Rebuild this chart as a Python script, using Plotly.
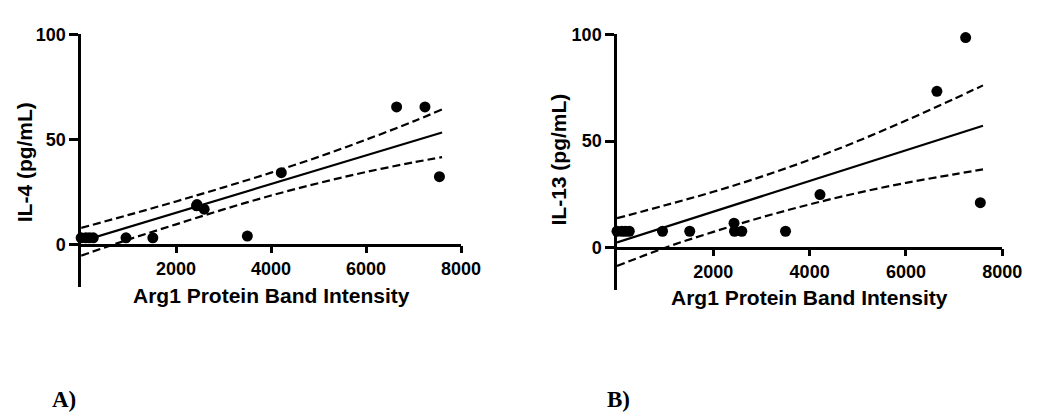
import plotly.graph_objects as go

# ---- data ----
intensity = [0, 100, 175, 255, 945, 1510, 2430, 2440, 2591, 3500, 4215, 6643, 7240, 7545]
il4 = [3.2, 3.2, 3.2, 3.2, 3.2, 3.2, 18.4, 19.0, 16.8, 4.0, 34.2, 65.5, 65.5, 32.3]
il13 = [7.7, 7.7, 7.7, 7.7, 7.7, 7.7, 11.5, 7.7, 7.7, 7.7, 24.9, 73.3, 98.5, 21.1]

band_x = [0, 1000, 2000, 3000, 4000, 5000, 6000, 7000, 7600]
il4_fit = [1.5, 8.3, 15.1, 22.0, 28.8, 35.6, 42.4, 49.2, 53.3]
il4_upper = [7.9, 14.1, 20.5, 27.2, 34.2, 41.7, 49.9, 58.6, 64.3]
il4_lower = [-5.3, 2.4, 9.6, 16.7, 23.3, 29.2, 34.5, 39.1, 41.6]
il13_fit = [2.5, 9.7, 16.9, 24.1, 31.3, 38.5, 45.7, 52.9, 57.2]
il13_upper = [13.8, 19.9, 26.2, 33.3, 41.2, 50.0, 59.6, 69.8, 76.1]
il13_lower = [-8.6, 0.0, 7.4, 14.2, 20.3, 25.7, 30.4, 34.4, 36.7]

x_ticks = [2000, 4000, 6000, 8000]
y_ticks = [0, 50, 100]
x_title = "Arg1 Protein Band Intensity"
y_titles = ["IL-4 (pg/mL)", "IL-13 (pg/mL)"]
panel_labels = ["A)", "B)"]

W, H = 1050, 418
SANS = "Liberation Sans, Arial, sans-serif"


def px(v):
    return v / W


def py(v):
    return 1 - v / H


fig = go.Figure()

panels = [
    dict(xa="x", ya="y", y=il4, fit=il4_fit, up=il4_upper, lo=il4_lower),
    dict(xa="x2", ya="y2", y=il13, fit=il13_fit, up=il13_upper, lo=il13_lower),
]
for p in panels:
    for arr in (p["up"], p["lo"]):
        fig.add_trace(go.Scatter(x=band_x, y=arr, xaxis=p["xa"], yaxis=p["ya"], mode="lines",
                                 line=dict(color="black", width=2.2, dash="8px,4px", shape="spline"),
                                 showlegend=False, hoverinfo="skip"))
    fig.add_trace(go.Scatter(x=band_x, y=p["fit"], xaxis=p["xa"], yaxis=p["ya"], mode="lines",
                             line=dict(color="black", width=2.2), showlegend=False))
    fig.add_trace(go.Scatter(x=intensity, y=p["y"], xaxis=p["xa"], yaxis=p["ya"], mode="markers",
                             marker=dict(color="black", size=11), cliponaxis=False, showlegend=False))

tickfont = dict(family=SANS, size=18, color="black", weight=700)

# pixel geometry of the two panels (left, right, top, bottom, zero-line)
geo = [
    (82.7, 470.0, 25.0, 283.3, 240.25),
    (629.0, 1021.7, 25.0, 287.2, 243.5),
]

layout = dict(width=W, height=H, margin=dict(l=0, r=0, t=0, b=0),
              plot_bgcolor="white", paper_bgcolor="white", showlegend=False)
for i, (l, r, t, b, z) in enumerate(geo):
    sx = "" if i == 0 else "2"
    layout["xaxis" + sx] = dict(domain=[px(l), px(r)], range=[0, 8000], anchor="free",
                                position=py(z), showline=True, linewidth=2.5, linecolor="black",
                                ticks="outside", ticklen=7, tickwidth=2.5, tickcolor="black",
                                tickvals=x_ticks, tickfont=tickfont, showgrid=False,
                                zeroline=False)
    layout["yaxis" + sx] = dict(domain=[py(b), py(t)], range=[-20, 100],
                                anchor="x" + sx, showline=True, linewidth=2.5, linecolor="black",
                                ticks="outside", ticklen=9, tickwidth=2.5, tickcolor="black",
                                tickvals=y_ticks, tickfont=tickfont, showgrid=False,
                                zeroline=False)
fig.update_layout(**layout)

titlefont = dict(family=SANS, size=21, color="black", weight=700)
xtitle_pos = [(276.3, 292.0), (825.3, 295.0)]
ytitle_pos = [(25.0, 156.5), (569.0, 153.0)]
label_pos = [(65.0, 399.0), (631.0, 399.0)]
for i in range(2):
    fig.add_annotation(text=x_title, x=px(xtitle_pos[i][0]), y=py(xtitle_pos[i][1]),
                       xref="paper", yref="paper", showarrow=False, font=titlefont,
                       xanchor="center", yanchor="middle")
    fig.add_annotation(text=y_titles[i], x=px(ytitle_pos[i][0]), y=py(ytitle_pos[i][1]),
                       xref="paper", yref="paper", showarrow=False, font=titlefont,
                       textangle=-90, xanchor="center", yanchor="middle")
    fig.add_annotation(text=panel_labels[i], x=px(label_pos[i][0]), y=py(label_pos[i][1]),
                       xref="paper", yref="paper", showarrow=False,
                       font=dict(family="Liberation Serif, Times New Roman, serif", size=23,
                                 color="black", weight=700),
                       xanchor="center", yanchor="middle")

fig.write_html("out.html", config={"displayModeBar": False},
               post_script="document.body.style.margin='0';")
